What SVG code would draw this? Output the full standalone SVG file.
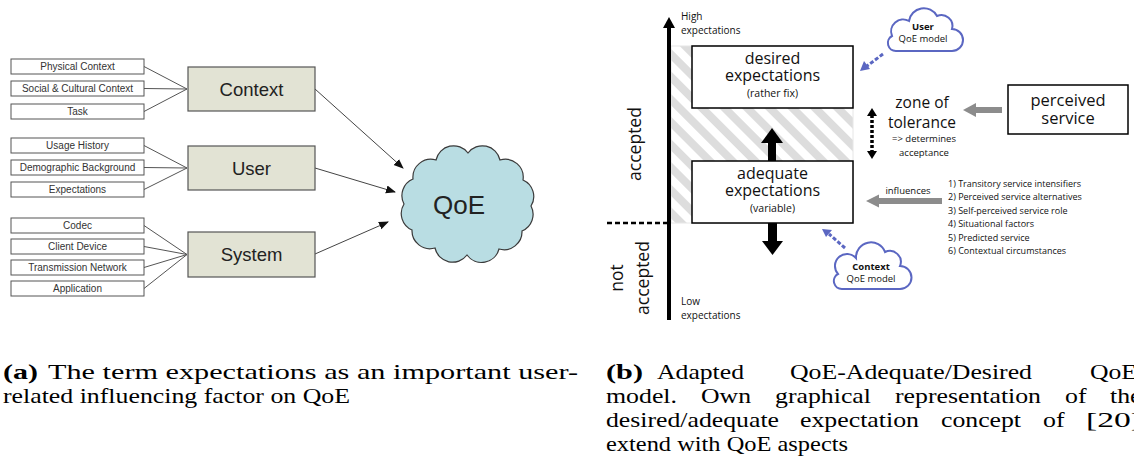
<svg xmlns="http://www.w3.org/2000/svg" width="1134" height="473" viewBox="0 0 1134 473">
  <defs>
    <style>
      .leaf { fill: #ffffff; stroke: #555555; stroke-width: 1; }
      .leaf-t { font-family: "Liberation Sans", Arial, sans-serif; font-size: 10px; fill: #333333; text-anchor: middle; }
      .main { fill: #e2e3d4; stroke: #555555; stroke-width: 1.2; }
      .main-t { font-family: "Liberation Sans", Arial, sans-serif; font-size: 18.5px; fill: #222222; text-anchor: middle; }
      .feed { stroke: #555555; stroke-width: 1; fill: none; }
      .toqoe { stroke: #444444; stroke-width: 1; fill: none; marker-end: url(#blackHead); }
      .box { fill: #ffffff; stroke: #000000; stroke-width: 1.5; }
      .os { font-family: "Open Sans", "Noto Sans", sans-serif; fill: #111111; }
      .mid { text-anchor: middle; }
      .cap { font-family: "Liberation Serif", "Times New Roman", serif; font-size: 22px; fill: #000000; }
      .capb { font-family: "Liberation Serif", "Times New Roman", serif; font-size: 22px; font-weight: bold; fill: #000000; }
      .bluecloud { fill: #ffffff; stroke: #5b67c2; stroke-width: 2; }
      .bluedash { stroke: #5b67c2; stroke-width: 3; stroke-dasharray: 4 2; fill: none; }
      .grayarrow { stroke: #8c8c8c; stroke-width: 6; fill: none; }
    </style>
    <marker id="blackHead" viewBox="0 0 10 10" refX="9" refY="5" markerWidth="10" markerHeight="10" markerUnits="userSpaceOnUse" orient="auto">
      <path d="M0,1 L10,5 L0,9 Z" fill="#111111"/>
    </marker>
    <pattern id="hatch" width="16" height="16" patternUnits="userSpaceOnUse" patternTransform="rotate(-45)">
      <rect width="16" height="16" fill="#ffffff"/>
      <rect width="8" height="16" fill="#dddddd"/>
    </pattern>
  </defs>

  <!-- ===== Left panel: influencing factors feeding QoE ===== -->
  <g id="connectors-left">
    <!-- leaves to Context -->
    <polyline class="feed" points="144,66.5 187,89"/>
    <polyline class="feed" points="144,88.5 187,89"/>
    <polyline class="feed" points="144,111.5 187,89"/>
    <!-- leaves to User -->
    <polyline class="feed" points="144,145.5 187,168"/>
    <polyline class="feed" points="144,167.5 187,168"/>
    <polyline class="feed" points="144,189.5 187,168"/>
    <!-- leaves to System -->
    <polyline class="feed" points="144,225.5 187,254.5"/>
    <polyline class="feed" points="144,246.5 187,254.5"/>
    <polyline class="feed" points="144,267.5 187,254.5"/>
    <polyline class="feed" points="144,288.5 187,254.5"/>
    <!-- categories to QoE -->
    <line class="toqoe" x1="315" y1="89" x2="403" y2="168"/>
    <line class="toqoe" x1="315" y1="168" x2="395" y2="192"/>
    <line class="toqoe" x1="315" y1="254" x2="388" y2="222"/>
  </g>

  <g id="leaf-physical"><rect class="leaf" x="11" y="59" width="133" height="15"/><text class="leaf-t" x="77.5" y="70">Physical Context</text></g>
  <g id="leaf-social"><rect class="leaf" x="11" y="81" width="133" height="15"/><text class="leaf-t" x="77.5" y="92">Social &amp; Cultural Context</text></g>
  <g id="leaf-task"><rect class="leaf" x="11" y="104" width="133" height="15"/><text class="leaf-t" x="77.5" y="115">Task</text></g>
  <g id="leaf-usage"><rect class="leaf" x="11" y="138" width="133" height="15"/><text class="leaf-t" x="77.5" y="149">Usage History</text></g>
  <g id="leaf-demographic"><rect class="leaf" x="11" y="160" width="133" height="15"/><text class="leaf-t" x="77.5" y="171">Demographic Background</text></g>
  <g id="leaf-expectations"><rect class="leaf" x="11" y="182" width="133" height="15"/><text class="leaf-t" x="77.5" y="193">Expectations</text></g>
  <g id="leaf-codec"><rect class="leaf" x="11" y="218" width="133" height="15"/><text class="leaf-t" x="77.5" y="229">Codec</text></g>
  <g id="leaf-client"><rect class="leaf" x="11" y="239" width="133" height="15"/><text class="leaf-t" x="77.5" y="250">Client Device</text></g>
  <g id="leaf-network"><rect class="leaf" x="11" y="260" width="133" height="15"/><text class="leaf-t" x="77.5" y="271">Transmission Network</text></g>
  <g id="leaf-application"><rect class="leaf" x="11" y="281" width="133" height="15"/><text class="leaf-t" x="77.5" y="292">Application</text></g>

  <g id="node-context"><rect class="main" x="188" y="67" width="127" height="44"/><text class="main-t" x="251.5" y="95.5">Context</text></g>
  <g id="node-user"><rect class="main" x="188" y="146" width="127" height="44"/><text class="main-t" x="251.5" y="174.5">User</text></g>
  <g id="node-system"><rect class="main" x="188" y="232" width="127" height="45"/><text class="main-t" x="251.5" y="261">System</text></g>

  <g id="node-qoe">
    <path d="M531,206 A18,18 0 0 1 522,231 A18,18 0 0 1 499,249 A18,18 0 0 1 467,255 A18,18 0 0 1 435,248 A18,18 0 0 1 412,230 A18,18 0 0 1 404,204 A18,18 0 0 1 413,179 A18,18 0 0 1 436,160 A18,18 0 0 1 468,153 A18,18 0 0 1 500,160 A18,18 0 0 1 523,180 A18,18 0 0 1 531,206 Z" fill="#b9dde3" stroke="#3a3a3a" stroke-width="1.2"/>
    <text x="459" y="214" font-family="'Liberation Sans', Arial, sans-serif" font-size="26" fill="#222222" text-anchor="middle">QoE</text>
  </g>

  <!-- ===== Right panel: adequate / desired expectation model ===== -->
  <g id="zone-hatch">
    <rect x="671" y="46" width="182" height="177" fill="url(#hatch)" stroke="#e6e6e6" stroke-width="1"/>
  </g>

  <g id="axis">
    <line x1="669" y1="26" x2="669" y2="320" stroke="#000000" stroke-width="4"/>
    <polygon points="669,17 663,28 675,28" fill="#000000"/>
    <text class="os" x="681" y="19.5" font-size="10">High</text>
    <text class="os" x="681" y="33.5" font-size="10">expectations</text>
    <text class="os" x="681" y="305" font-size="10">Low</text>
    <text class="os" x="681" y="318.5" font-size="10">expectations</text>
    <line x1="607" y1="223" x2="667" y2="223" stroke="#000000" stroke-width="2.5" stroke-dasharray="5 3"/>
    <text class="os mid" transform="translate(641,144) rotate(-90)" font-size="17.5">accepted</text>
    <text class="os mid" transform="translate(623,278) rotate(-90)" font-size="17.5">not</text>
    <text class="os mid" transform="translate(649,278) rotate(-90)" font-size="17.5">accepted</text>
  </g>

  <g id="node-desired">
    <rect class="box" x="692" y="46" width="161" height="62"/>
    <text class="os mid" x="772.5" y="64" font-size="16">desired</text>
    <text class="os mid" x="772.5" y="81" font-size="16">expectations</text>
    <text class="os mid" x="772.5" y="97" font-size="10.5">(rather fix)</text>
  </g>

  <g id="node-adequate">
    <rect class="box" x="692" y="161" width="161" height="62"/>
    <text class="os mid" x="772.5" y="179" font-size="16">adequate</text>
    <text class="os mid" x="772.5" y="196" font-size="16">expectations</text>
    <text class="os mid" x="772.5" y="212" font-size="10.5">(variable)</text>
  </g>

  <g id="node-tolerance">
    <text class="os mid" x="922" y="108" font-size="15.5">zone of</text>
    <text class="os mid" x="922" y="128" font-size="15.5">tolerance</text>
    <text class="os mid" x="924" y="142" font-size="9.5">=&gt; determines</text>
    <text class="os mid" x="924" y="156" font-size="9.5">acceptance</text>
  </g>

  <g id="node-perceived">
    <rect class="box" x="1008" y="85" width="120" height="49"/>
    <text class="os mid" x="1068" y="106" font-size="16.5">perceived</text>
    <text class="os mid" x="1068" y="124" font-size="16.5">service</text>
  </g>

  <g id="node-factors">
    <text class="os" x="948" y="186.5" font-size="9">1) Transitory service intensifiers</text>
    <text class="os" x="948" y="200" font-size="9">2) Perceived service alternatives</text>
    <text class="os" x="948" y="213.5" font-size="9">3) Self-perceived service role</text>
    <text class="os" x="948" y="227" font-size="9">4) Situational factors</text>
    <text class="os" x="948" y="240.5" font-size="9">5) Predicted service</text>
    <text class="os" x="948" y="254" font-size="9">6) Contextual circumstances</text>
  </g>

  <g id="node-user-model">
    <path class="bluecloud" d="M896,51 A8,8 0 0 1 892,36 A12,12 0 0 1 909,21 A15,15 0 0 1 937,16 A11,11 0 0 1 952,29 A11,11 0 0 1 952,51 Z"/>
    <text class="os mid" x="923" y="30" font-size="9.5" font-weight="bold">User</text>
    <text class="os mid" x="923" y="42" font-size="9.5">QoE model</text>
  </g>

  <g id="node-context-model">
    <path class="bluecloud" d="M842,289 A8,8 0 0 1 838,274 A12,12 0 0 1 856,258 A15,15 0 0 1 885,252 A11,11 0 0 1 900,266 A11,11 0 0 1 900,289 Z"/>
    <text class="os mid" x="871" y="270" font-size="9.5" font-weight="bold">Context</text>
    <text class="os mid" x="871" y="282" font-size="9.5">QoE model</text>
  </g>

  <g id="connectors-right">
    <!-- adequate pushed up / down -->
    <rect x="768" y="141" width="8" height="20" fill="#000000"/>
    <polygon points="772,128 761,143 783,143" fill="#000000"/>
    <rect x="768" y="223" width="9" height="19" fill="#000000"/>
    <polygon points="762,241 783,241 772.5,255" fill="#000000"/>
    <!-- zone of tolerance range -->
    <line x1="872" y1="115" x2="872" y2="152" stroke="#000000" stroke-width="3.5" stroke-dasharray="3 2"/>
    <polygon points="872,108 867,116 877,116" fill="#000000"/>
    <polygon points="872,159 867,151 877,151" fill="#000000"/>
    <!-- perceived service to tolerance -->
    <line class="grayarrow" x1="1002" y1="110" x2="975" y2="110"/>
    <polygon points="963,110 976,103 976,117" fill="#8c8c8c"/>
    <!-- influences -->
    <line class="grayarrow" x1="942" y1="201" x2="878" y2="201"/>
    <polygon points="866,201 879,194.5 879,207.5" fill="#8c8c8c"/>
    <text class="os mid" x="908" y="194" font-size="9.5">influences</text>
    <!-- model clouds to boxes -->
    <line class="bluedash" x1="883" y1="54" x2="867" y2="66"/>
    <polygon points="860,71 864,61 870,69" fill="#5b67c2"/>
    <line class="bluedash" x1="845" y1="248" x2="829" y2="234"/>
    <polygon points="822,229 832,230 826,237" fill="#5b67c2"/>
  </g>

  <!-- ===== Captions ===== -->
  <g id="caption-a">
    <text class="capb" x="3" y="379" textLength="35" lengthAdjust="spacingAndGlyphs">(a)</text>
    <text class="cap" x="48" y="379" textLength="530" lengthAdjust="spacingAndGlyphs">The term expectations as an important user-</text>
    <text class="cap" x="3" y="403" textLength="347" lengthAdjust="spacingAndGlyphs">related influencing factor on QoE</text>
  </g>
  <g id="caption-b">
    <text class="capb" x="606" y="379" textLength="37" lengthAdjust="spacingAndGlyphs">(b)</text>
    <text class="cap" x="657" y="379" textLength="87" lengthAdjust="spacingAndGlyphs">Adapted</text>
    <text class="cap" x="790" y="379" textLength="242" lengthAdjust="spacingAndGlyphs">QoE-Adequate/Desired</text>
    <text class="cap" x="1090" y="379" textLength="47" lengthAdjust="spacingAndGlyphs">QoE</text>
    <text class="cap" x="606" y="403" textLength="71" lengthAdjust="spacingAndGlyphs">model.</text>
    <text class="cap" x="701" y="403" textLength="50" lengthAdjust="spacingAndGlyphs">Own</text>
    <text class="cap" x="775" y="403" textLength="96" lengthAdjust="spacingAndGlyphs">graphical</text>
    <text class="cap" x="895" y="403" textLength="146" lengthAdjust="spacingAndGlyphs">representation</text>
    <text class="cap" x="1065" y="403" textLength="21.5" lengthAdjust="spacingAndGlyphs">of</text>
    <text class="cap" x="1110" y="403" textLength="31.5" lengthAdjust="spacingAndGlyphs">the</text>
    <text class="cap" x="606" y="427" textLength="173" lengthAdjust="spacingAndGlyphs">desired/adequate</text>
    <text class="cap" x="800" y="427" textLength="119" lengthAdjust="spacingAndGlyphs">expectation</text>
    <text class="cap" x="941" y="427" textLength="80" lengthAdjust="spacingAndGlyphs">concept</text>
    <text class="cap" x="1043" y="427" textLength="21.5" lengthAdjust="spacingAndGlyphs">of</text>
    <text class="cap" x="1086" y="427" textLength="56" lengthAdjust="spacingAndGlyphs">[20]</text>
    <text class="cap" x="606" y="451" textLength="242" lengthAdjust="spacingAndGlyphs">extend with QoE aspects</text>
  </g>
</svg>
